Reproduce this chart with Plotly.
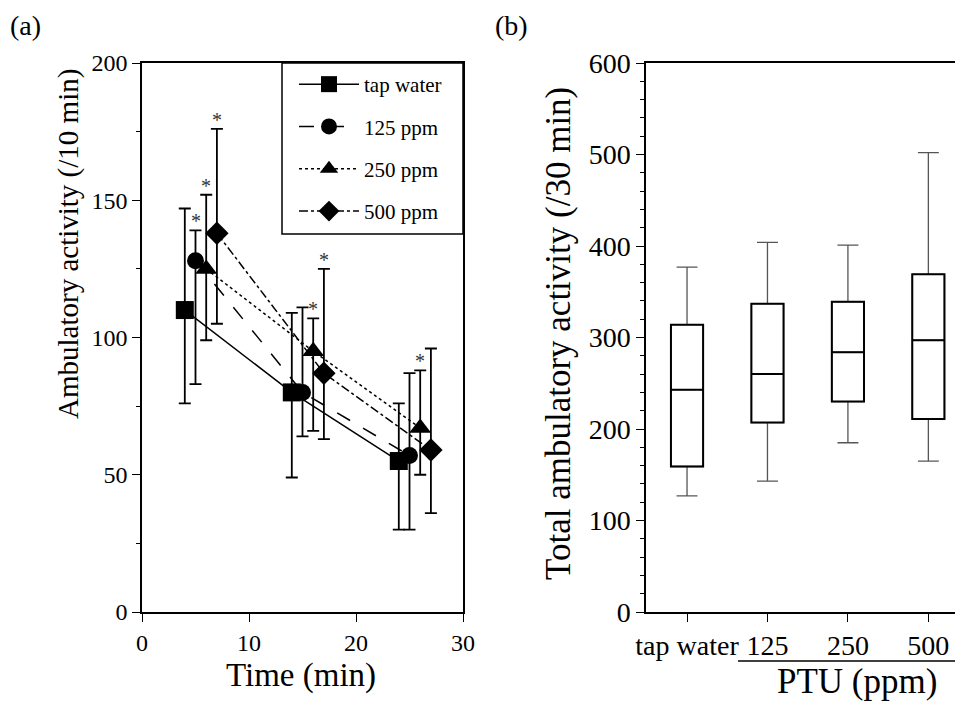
import numpy as np
import plotly.graph_objects as go

# panel (a): time course, mean with error bars
time_tap = [4, 14, 24]
tap_mean = [110, 80, 55]
tap_upper = [147, 109, 76]
tap_lower = [76, 49, 30]

time_125 = [5, 15, 25]
ppm125_mean = [128, 80, 57]
ppm125_upper = [139, 111, 87]
ppm125_lower = [83, 64, 30]

time_250 = [6, 16, 26]
ppm250_mean = [125, 95, 67]
ppm250_upper = [152, 107, 88]
ppm250_lower = [99, 66, 50]

time_500 = [7, 17, 27]
ppm500_mean = [138, 87, 59]
ppm500_upper = [176, 125, 96]
ppm500_lower = [105, 63, 36]

sig_125 = [True, False, False]
sig_250 = [True, True, True]
sig_500 = [True, True, False]

# panel (b): total activity box plots
groups = ["tap water", "125", "250", "500"]
box_low = [127, 143, 185, 165]
box_q1 = [159, 207, 230, 211]
box_median = [243, 260, 284, 297]
box_q3 = [314, 337, 339, 369]
box_high = [377, 404, 401, 502]
box_sig = [False, False, True, True]

FONT = "Liberation Serif"
W, H = 963, 701
OFF = 8  # page body margin


def px_x(p):
    return (p - OFF) / W


def px_y(p):
    return (H - (p - OFF)) / H


series = [
    ("tap water", time_tap, tap_mean, tap_upper, tap_lower, "square", 18, "solid", [False] * 3),
    ("125 ppm", time_125, ppm125_mean, ppm125_upper, ppm125_lower, "circle", 17, "longdash", sig_125),
    ("250 ppm", time_250, ppm250_mean, ppm250_upper, ppm250_lower, "triangle-up", 19, "dot", sig_250),
    ("500 ppm", time_500, ppm500_mean, ppm500_upper, ppm500_lower, "diamond", 18, "dashdot", sig_500),
]

fig = go.Figure()
annotations = []

for i, (name, t, m, up, lo, sym, size, dash, sig) in enumerate(series):
    m = np.array(m)
    fig.add_trace(go.Scatter(
        x=t, y=m, name=name, mode="lines+markers", legendgroup=str(i),
        line=dict(color="black", width=1.5, dash=dash),
        marker=dict(symbol=sym, size=size, color="black"),
        error_y=dict(type="data", symmetric=False,
                     array=np.array(up) - m, arrayminus=m - np.array(lo),
                     color="black", thickness=1.8, width=6),
        xaxis="x", yaxis="y"))
    for tx, u, s in zip(t, up, sig):
        if s:
            annotations.append(dict(x=tx, y=u, xref="x", yref="y", text="*",
                                    showarrow=False, xanchor="center", yanchor="bottom", yshift=-4,
                                    font=dict(family=FONT, size=20, color="#333")))

# whiskers (thin grey) then boxes (black) on top
fig.add_trace(go.Box(
    x=groups, q1=box_q1, median=box_median, q3=box_q3,
    lowerfence=box_low, upperfence=box_high, width=0.4, whiskerwidth=0.65,
    line=dict(color="#555555", width=1.3), fillcolor="rgba(0,0,0,0)",
    boxpoints=False, showlegend=False, hoverinfo="skip", xaxis="x2", yaxis="y2"))
fig.add_trace(go.Box(
    x=groups, q1=box_q1, median=box_median, q3=box_q3,
    lowerfence=box_q1, upperfence=box_q3, width=0.4, whiskerwidth=0,
    line=dict(color="black", width=2), fillcolor="rgba(0,0,0,0)",
    boxpoints=False, showlegend=False, xaxis="x2", yaxis="y2"))

for g, hi, s in zip(groups, box_high, box_sig):
    if s:
        annotations.append(dict(x=g, y=hi, xref="x2", yref="y2", text="*",
                                showarrow=False, xanchor="center", yanchor="bottom", yshift=-4,
                                font=dict(family=FONT, size=22, color="#333")))


def label(text, x, y, size, angle=0):
    return dict(text=text, x=px_x(x), y=px_y(y), xref="paper", yref="paper",
                showarrow=False, xanchor="center", yanchor="middle", textangle=angle,
                font=dict(family=FONT, size=size, color="black"))


# titles and panel labels
annotations += [
    label("(a)", 25, 25, 28),
    label("(b)", 512, 25, 28),
    label("Ambulatory activity (/10 min)", 68, 244, 29, -90),
    label("Time (min)", 301, 675, 33),
    label("Total ambulatory activity (/30 min)", 558, 334, 35, -90),
    label("PTU (ppm)", 857, 681, 35),
]

shapes = [
    dict(type="rect", xref="paper", yref="paper", x0=px_x(282), x1=px_x(463),
         y0=px_y(234), y1=px_y(63), line=dict(color="black", width=1.5)),
    dict(type="line", xref="paper", yref="paper", x0=px_x(738), x1=1.0,
         y0=px_y(661), y1=px_y(661), line=dict(color="black", width=1.5)),
]

axis_common = dict(showgrid=False, zeroline=False, showline=True, linecolor="black",
                   linewidth=1.5, ticks="outside", tickcolor="black", ticklen=8, tickwidth=1.3,
                   automargin=False)

fig.update_layout(
    width=W, height=H,
    margin=dict(l=0, r=0, t=0, b=0),
    paper_bgcolor="white", plot_bgcolor="white",
    font=dict(family=FONT, color="black"),
    xaxis=dict(domain=[px_x(142), px_x(463)], range=[0, 30], tickvals=[0, 10, 20, 30],
               mirror=True, tickfont=dict(size=24), anchor="y", **axis_common),
    yaxis=dict(domain=[px_y(612), px_y(63)], range=[0, 200], tickvals=[0, 50, 100, 150, 200],
               mirror=True, tickfont=dict(size=24), anchor="x",
               minor=dict(dtick=25, ticks="outside", ticklen=4, tickcolor="black"),
               **axis_common),
    xaxis2=dict(domain=[px_x(646), 1.0], range=[-0.51, 3.53], type="category",
                mirror=True, tickfont=dict(size=28), anchor="y2", **axis_common),
    yaxis2=dict(domain=[px_y(612), px_y(63)], range=[0, 600], dtick=100,
                tickfont=dict(size=28), anchor="x2",
                minor=dict(dtick=20, ticks="outside", ticklen=4, tickcolor="black"),
                **axis_common),
    legend=dict(x=px_x(294), y=px_y(64), xanchor="left", yanchor="top",
                font=dict(family=FONT, size=21), bgcolor="rgba(0,0,0,0)",
                tracegroupgap=12, itemwidth=60),
    boxmode="overlay",
    annotations=annotations,
    shapes=shapes,
)

fig.write_html("out.html")
